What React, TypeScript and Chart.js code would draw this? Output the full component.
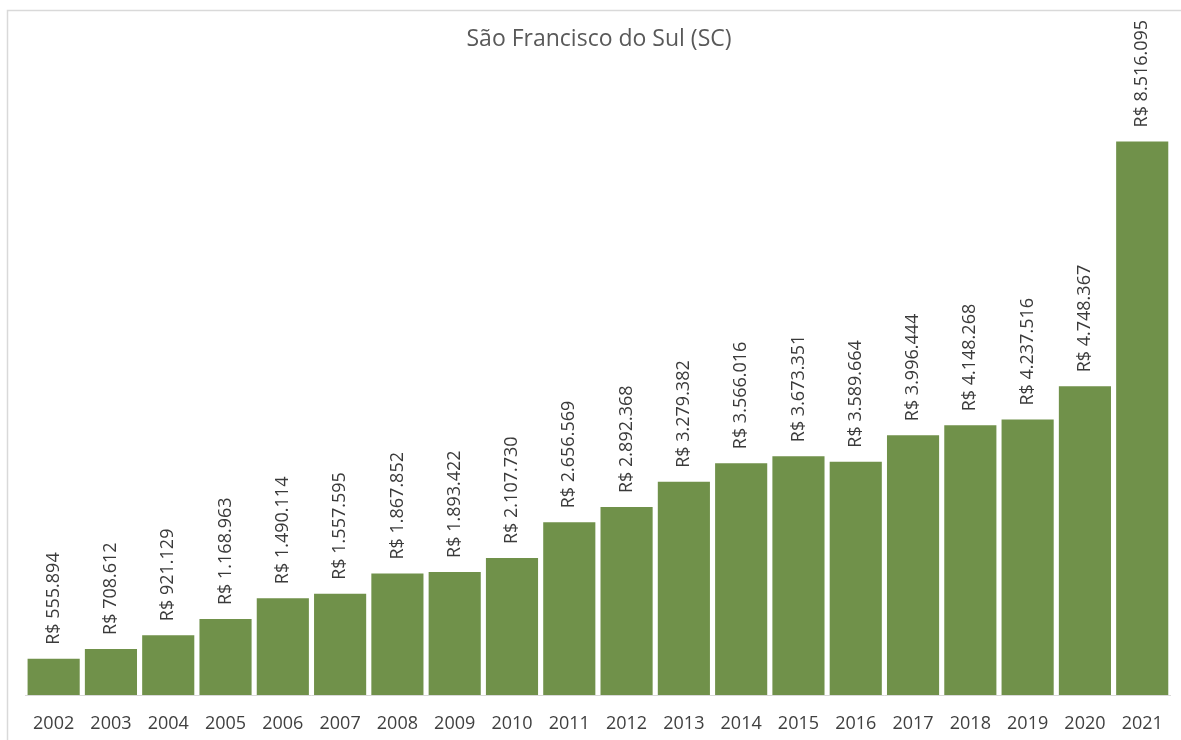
import React, { useEffect, useRef } from "react";
import { Chart, registerables } from "chart.js";

Chart.register(...registerables);

const years = ["2002", "2003", "2004", "2005", "2006", "2007", "2008", "2009", "2010", "2011", "2012", "2013", "2014", "2015", "2016", "2017", "2018", "2019", "2020", "2021"];
const values = [555894, 708612, 921129, 1168963, 1490114, 1557595, 1867852, 1893422, 2107730, 2656569, 2892368, 3279382, 3566016, 3673351, 3589664, 3996444, 4148268, 4237516, 4748367, 8516095];
const titleText = "São Francisco do Sul (SC)";

const FONT = "'Open Sans', 'Noto Sans', sans-serif";

const fmt = (v: number) => "R$ " + v.toString().replace(/\B(?=(\d{3})+(?!\d))/g, ".");

const framePlugin = {
  id: "frame",
  beforeDraw(chart: any) {
    const ctx = chart.ctx;
    ctx.save();
    ctx.fillStyle = "#ffffff";
    ctx.fillRect(0, 0, chart.width, chart.height);
    ctx.strokeStyle = "#d9d9d9";
    ctx.lineWidth = 1.5;
    ctx.strokeRect(7.5, 10.5, 1400, 1000);
    ctx.restore();
  },
};

const labelPlugin = {
  id: "barLabels",
  afterDatasetsDraw(chart: any) {
    const ctx = chart.ctx;
    const meta = chart.getDatasetMeta(0);
    ctx.save();
    ctx.font = `18px ${FONT}`;
    ctx.fillStyle = "#3a3a3a";
    ctx.textAlign = "left";
    ctx.textBaseline = "middle";
    meta.data.forEach((el: any, i: number) => {
      ctx.save();
      ctx.translate(el.x, el.y - 14);
      ctx.rotate(-Math.PI / 2);
      ctx.fillText(fmt(values[i]), 0, 0);
      ctx.restore();
    });
    ctx.restore();
  },
};

export default function App() {
  const ref = useRef<HTMLCanvasElement | null>(null);
  useEffect(() => {
    document.body.style.margin = "0";
    const chart = new Chart(ref.current as HTMLCanvasElement, {
      type: "bar",
      data: {
        labels: years,
        datasets: [
          {
            data: values,
            backgroundColor: "#70914a",
            borderWidth: 0,
            barPercentage: 0.91,
            categoryPercentage: 1,
          },
        ],
      },
      options: {
        responsive: false,
        animation: false,
        layout: { padding: { left: 25, right: 8, top: 10, bottom: 0 } },
        plugins: {
          legend: { display: false },
          tooltip: { enabled: false },
          title: {
            display: true,
            text: titleText,
            color: "#595959",
            font: { family: FONT, size: 23, weight: "normal" },
            padding: { top: 16, bottom: 56.4 },
          },
        },
        scales: {
          x: {
            grid: { display: false, drawTicks: false },
            border: { display: true, color: "#d9d9d9", width: 1 },
            ticks: { color: "#404040", font: { family: FONT, size: 18 }, padding: 18, maxRotation: 0, autoSkip: false },
            afterFit: (axis: any) => {
              axis.height = 45;
            },
          },
          y: {
            display: false,
            min: 0,
            max: 9000000,
          },
        },
      },
      plugins: [framePlugin, labelPlugin],
    });
    return () => chart.destroy();
  }, []);
  return (
    <div style={{ position: "fixed", left: 0, top: 0, width: 1181, height: 740 }}>
      <canvas ref={ref} width={1181} height={740} style={{ display: "block" }} />
    </div>
  );
}
